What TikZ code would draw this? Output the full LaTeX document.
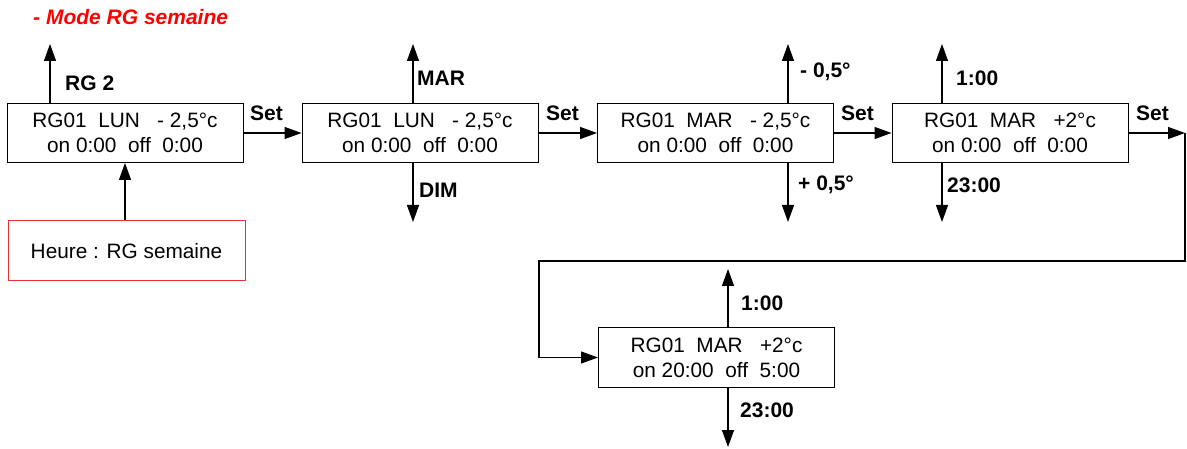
\documentclass[tikz,border=0pt]{standalone}
\usepackage{fontspec}
\setmainfont{Liberation Sans}
\usetikzlibrary{arrows.meta}
\definecolor{boxred}{RGB}{235,50,50}
\definecolor{titlered}{RGB}{255,0,0}
\tikzset{
  disp/.style={draw=black, line width=1pt, minimum width=236pt, minimum height=59pt, inner sep=0pt, align=center, font=\fontsize{20.8}{25}\selectfont},
  arr/.style={line width=1.2pt, -{Triangle[length=17pt,width=12pt]}},
  conn/.style={line width=1.2pt},
  lbl/.style={font=\bfseries\fontsize{21}{22}\selectfont, inner sep=0pt, anchor=west}
}
\begin{document}
\begin{tikzpicture}[x=1pt,y=-1pt]
\useasboundingbox (0,0) rectangle (1187,449);
\node[font=\bfseries\itshape\fontsize{21}{22}\selectfont, text=titlered, anchor=west, inner sep=0pt] (title) at (33,17) {- Mode RG semaine};

\node[disp] (b1) at (125,133) {RG01\ \ LUN\ \ \ - 2,5°c\\on 0:00\ \ off\ \ 0:00};
\node[disp] (b2) at (420,133) {RG01\ \ LUN\ \ \ - 2,5°c\\on 0:00\ \ off\ \ 0:00};
\node[disp] (b3) at (715.5,133) {RG01\ \ MAR\ \ \ - 2,5°c\\on 0:00\ \ off\ \ 0:00};
\node[disp] (b4) at (1010,133) {RG01\ \ MAR\ \ \ +2°c\\on 0:00\ \ off\ \ 0:00};
\node[disp] (b5) at (716.5,357.5) {RG01\ \ MAR\ \ \ +2°c\\on 20:00\ \ off\ \ 5:00};
\node[disp, draw=boxred, minimum width=237pt, minimum height=60pt] (h) at (126.5,251) {Heure : RG semaine};

% arrows
\coordinate (u1) at (50,44);
\coordinate (u2) at (413,44);
\coordinate (d2) at (413,222);
\coordinate (u3) at (788,44);
\coordinate (d3) at (788,222);
\coordinate (u4) at (942,44);
\coordinate (d4) at (942,222);
\coordinate (u5) at (728,269);
\coordinate (d5) at (728,447);
\coordinate (e4) at (1185,133);
\coordinate (c1) at (1185,261);
\coordinate (c2) at (539,261);
\coordinate (c3) at (539,357.5);

\draw[arr] (u1 |- b1.north) -- (u1);
\draw[arr] (h.north -| b1.south) -- (b1.south);
\draw[arr] (b1.east) -- (b2.west);
\draw[arr] (b2.east) -- (b3.west);
\draw[arr] (b3.east) -- (b4.west);
\draw[arr] (b4.east) -- (e4);
\draw[arr] (u2 |- b2.north) -- (u2);
\draw[arr] (d2 |- b2.south) -- (d2);
\draw[arr] (u3 |- b3.north) -- (u3);
\draw[arr] (d3 |- b3.south) -- (d3);
\draw[arr] (u4 |- b4.north) -- (u4);
\draw[arr] (d4 |- b4.south) -- (d4);
\draw[arr] (u5 |- b5.north) -- (u5);
\draw[arr] (d5 |- b5.south) -- (d5);
\draw[conn] (e4) -- (c1) -- (c2) -- (c3);
\draw[arr] (c3) -- (b5.west);

% labels
\node[lbl] (l1) at (65,83) {RG 2};
\node[lbl] (s1) at (250,113) {Set};
\node[lbl] (s2) at (546,113) {Set};
\node[lbl] (s3) at (841,113) {Set};
\node[lbl] (s4) at (1136,113) {Set};
\node[lbl] (mar) at (417,78) {MAR};
\node[lbl] (dim) at (419,190) {DIM};
\node[lbl] (m05) at (800,72) {- 0,5°};
\node[lbl] (p05) at (798,185) {+ 0,5°};
\node[lbl] (h1) at (956,78) {1:00};
\node[lbl] (h23) at (947,185) {23:00};
\node[lbl] (h1b) at (741,303) {1:00};
\node[lbl] (h23b) at (740,410) {23:00};
\end{tikzpicture}
\end{document}
